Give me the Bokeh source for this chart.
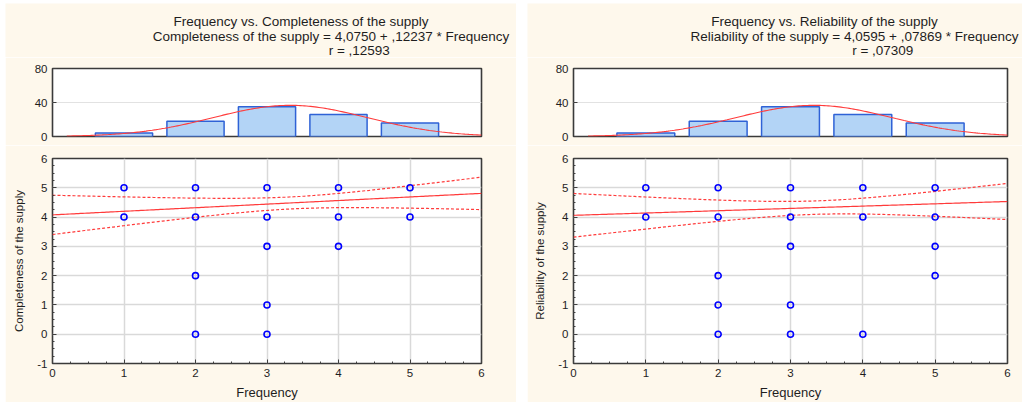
import numpy as np
from bokeh.plotting import figure
from bokeh.layouts import row, column
from bokeh.models import (SingleIntervalTicker, FixedTicker, Label, Spacer,
                          PrintfTickFormatter, Range1d)
from bokeh.embed import file_html
from bokeh.resources import INLINE

# ---------------- data ----------------
freq_bins = [1, 2, 3, 4, 5]
freq_counts = [4, 18, 35, 26, 16]

comp_x = [1, 1, 2, 2, 2, 2, 3, 3, 3, 3, 3, 4, 4, 4, 5, 5]
comp_y = [5, 4, 5, 4, 2, 0, 5, 4, 3, 1, 0, 5, 4, 3, 5, 4]

rel_x = [1, 1, 2, 2, 2, 2, 2, 3, 3, 3, 3, 3, 4, 4, 4, 5, 5, 5, 5]
rel_y = [5, 4, 5, 4, 2, 1, 0, 5, 4, 3, 1, 0, 5, 4, 0, 5, 4, 3, 2]

comp_coef = [4.0750, 0.12237]
rel_coef = [4.0595, 0.07869]
comp_titles = ["Frequency vs. Completeness of the supply",
               "Completeness of the supply = 4,0750 + ,12237 * Frequency",
               "r =   ,12593"]
rel_titles = ["Frequency vs. Reliability of the supply",
              "Reliability of the supply = 4,0595 + ,07869 * Frequency",
              "r =   ,07309"]
comp_ylabel = "Completeness of the supply"
rel_ylabel = "Reliability of the supply"
x_label = "Frequency"
hist_ticks = [0, 40, 80]
# scale of the 95% confidence band (t * s)
comp_band_k = 2.05
rel_band_k = 2.28

FONT = "Liberation Sans"
CREAM = "#fef8ec"
RED = "#ff3b3b"
TXT = "#1e1e1e"

# statistics of the Frequency variable (from the histogram)
bins = np.array(freq_bins, dtype=float)
cnts = np.array(freq_counts, dtype=float)
n_obs = cnts.sum()
f_mean = (bins * cnts).sum() / n_obs
f_sxx = (cnts * (bins - f_mean) ** 2).sum()
f_sd = np.sqrt(f_sxx / (n_obs - 1))

TITLE_H = 54
HIST_H = 88
HIST_TOP = 11
HIST_BOT = 9
SCAT_H = 257


def style_axis(ax):
    ax.axis_line_color = None
    ax.major_tick_in = 4
    ax.major_tick_out = 0
    ax.minor_tick_in = 2
    ax.minor_tick_out = 0
    ax.major_tick_line_color = "#404040"
    ax.minor_tick_line_color = "#404040"
    ax.major_label_text_font = FONT
    ax.major_label_text_font_size = "11.5px"
    ax.major_label_text_color = TXT
    ax.major_label_standoff = 5
    ax.axis_label_text_font = FONT
    ax.axis_label_text_font_style = "normal"
    ax.axis_label_text_color = TXT
    ax.formatter = PrintfTickFormatter(format="%d")


def make_title(width, bl, br, titles):
    # a plain strip that holds the three title lines
    p = figure(width=width, height=TITLE_H, x_range=Range1d(0, width),
               y_range=Range1d(TITLE_H, 0), output_backend="svg",
               toolbar_location=None, x_axis_location=None, y_axis_location=None,
               min_border=0, min_border_left=0, min_border_right=0,
               min_border_top=0, min_border_bottom=0)
    p.border_fill_color = CREAM
    p.background_fill_color = CREAM
    p.outline_line_color = None
    p.grid.visible = False
    centre = bl + (width - bl - br) / 2.0
    offs = [34, 64, 96]          # px right of the frame centre
    ys = [18, 32.5, 47]          # px from the strip top
    for t, o, yy in zip(titles, offs, ys):
        p.add_layout(Label(x=centre + o, y=yy, text=t, text_align="center",
                           text_baseline="middle", text_font=FONT,
                           text_font_size="13.5px", text_color=TXT))
    return p


def make_hist(width, bl, br):
    p = figure(width=width, height=HIST_H, x_range=(0, 6), y_range=(0, 80),
               output_backend="svg", toolbar_location=None,
               x_axis_location=None, y_axis_location="left",
               min_border_left=bl, min_border_right=br,
               min_border_top=HIST_TOP, min_border_bottom=HIST_BOT)
    p.border_fill_color = CREAM
    p.background_fill_color = "white"
    p.outline_line_color = "#3a3a3a"
    p.outline_line_width = 1.6
    yt = FixedTicker(ticks=hist_ticks)
    p.yaxis.ticker = yt
    style_axis(p.yaxis[0])
    p.yaxis.minor_tick_line_color = None
    p.xgrid.visible = False
    p.ygrid.ticker = yt
    p.ygrid.grid_line_color = "#e2e2e2"

    p.vbar(x=freq_bins, top=freq_counts, width=0.8, bottom=0,
           fill_color="#b3d4f6", line_color="#2f62d6", line_width=1.5)
    xs = np.linspace(0.2, 6, 200)
    ys = n_obs / (f_sd * np.sqrt(2 * np.pi)) * np.exp(-0.5 * ((xs - f_mean) / f_sd) ** 2)
    p.line(xs, ys, line_color=RED, line_width=1.1)
    return p


def make_scatter(width, bl, br, xs_pts, ys_pts, coef, band_k, ylabel):
    p = figure(width=width, height=SCAT_H, x_range=(0, 6), y_range=(-1, 6),
               output_backend="svg", toolbar_location=None,
               min_border_left=bl, min_border_right=br,
               min_border_top=13, min_border_bottom=39)
    p.border_fill_color = CREAM
    p.background_fill_color = "white"
    p.outline_line_color = "#3a3a3a"
    p.outline_line_width = 1.6
    tick = SingleIntervalTicker(interval=1, num_minor_ticks=4)
    p.xaxis.ticker = tick
    p.yaxis.ticker = tick
    for ax in (p.xaxis[0], p.yaxis[0]):
        style_axis(ax)
    p.xaxis.axis_label = x_label
    p.xaxis.axis_label_text_font_size = "13px"
    p.xaxis.axis_label_standoff = 5
    p.yaxis.axis_label = ylabel
    p.yaxis.axis_label_text_font_size = "11.5px"
    p.yaxis.axis_label_standoff = 9
    p.xgrid.grid_line_color = "#d9d9d9"
    p.ygrid.grid_line_color = "#d9d9d9"
    p.xgrid.grid_line_width = 1.5
    p.ygrid.grid_line_width = 1.5

    a, b = coef
    lx = np.linspace(0, 6, 200)
    ly = a + b * lx
    hw = band_k * np.sqrt(1 / n_obs + (lx - f_mean) ** 2 / f_sxx)
    p.line(lx, ly, line_color=RED, line_width=1.2)
    p.line(lx, ly + hw, line_color=RED, line_width=1.2, line_dash="3 2")
    p.line(lx, ly - hw, line_color=RED, line_width=1.2, line_dash="3 2")

    p.scatter(xs_pts, ys_pts, marker="circle", size=6, fill_color=None,
              line_color="#0000ff", line_width=1.6)
    return p


LW, RW = 511, 495
t1 = make_title(LW, 47, 35, comp_titles)
h1 = make_hist(LW, 47, 35)
s1 = make_scatter(LW, 47, 35, comp_x, comp_y, comp_coef, comp_band_k, comp_ylabel)
t2 = make_title(RW, 46, 15, rel_titles)
h2 = make_hist(RW, 46, 15)
s2 = make_scatter(RW, 46, 15, rel_x, rel_y, rel_coef, rel_band_k, rel_ylabel)

top_row = row(Spacer(width=5, height=TITLE_H + 3), column(Spacer(width=LW, height=3), t1),
              Spacer(width=11, height=TITLE_H + 3), column(Spacer(width=RW, height=3), t2))
bottom_row = row(Spacer(width=5, height=HIST_H + SCAT_H), column(h1, s1),
                 Spacer(width=11, height=HIST_H + SCAT_H), column(h2, s2))
layout = column(top_row, bottom_row)

open("out.html", "w").write(file_html(layout, INLINE))
